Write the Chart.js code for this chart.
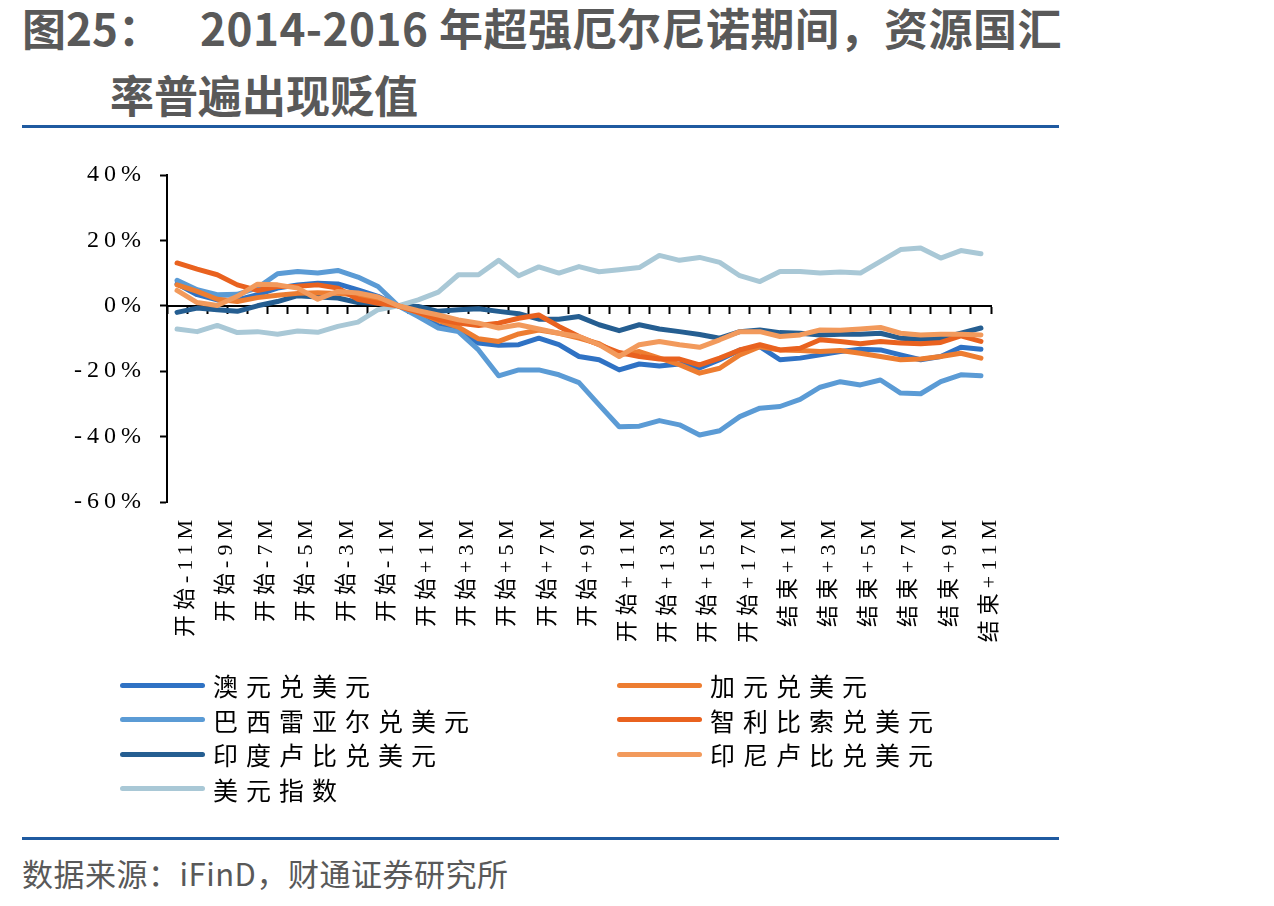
<!DOCTYPE html>
<html>
<head>
<meta charset="utf-8">
<script src="https://cdn.jsdelivr.net/npm/chart.js@4.4.0/dist/chart.umd.min.js"></script>
<style>
    body {
        margin: 0;
        width: 1274px;
        height: 906px;
        position: relative;
        overflow: hidden;
        background: #fff;
        font-family: "Noto Sans CJK SC", sans-serif;
    }
    .title {
        position: absolute;
        font-size: 44px;
        font-weight: 700;
        color: #595959;
        line-height: 1;
        white-space: nowrap;
    }
    .rule {
        position: absolute;
        left: 22px;
        width: 1037px;
        height: 3px;
        background: #1f5aa0;
    }
    #chartBox {
        position: absolute;
        left: 0;
        top: 140px;
        width: 1274px;
        height: 540px;
    }
    .item {
        position: absolute;
        height: 34px;
        display: flex;
        align-items: center;
        white-space: nowrap;
    }
    .swatch {
        width: 85px;
        height: 5px;
        border-radius: 3px;
        margin-right: 8px;
    }
    .item span {
        font-size: 25px;
        letter-spacing: 8px;
        color: #000;
    }
    .source {
        position: absolute;
        left: 22px;
        top: 857px;
        font-size: 31px;
        letter-spacing: 0.5px;
        color: #595959;
        line-height: 1;
        white-space: nowrap;
    }
</style>
</head>
<body>
<div class="title" style="left:22px; top:5px;">图25：</div>
<div class="title" style="left:200px; top:5px; letter-spacing:0.5px;">2014-2016 年超强厄尔尼诺期间，资源国汇</div>
<div class="title" style="left:110px; top:72px;">率普遍出现贬值</div>
<div class="rule" style="top:125px;"></div>

<div id="chartBox"><canvas id="fxChart"></canvas></div>
<div id="legend"></div>

<div class="rule" style="top:837px;"></div>
<div class="source">数据来源：iFinD，财通证券研究所</div>

<script>
// x categories (months relative to start / end of El Nino)
const categories = [
    "开始-11M", "开始-10M", "开始-9M", "开始-8M", "开始-7M", "开始-6M",
    "开始-5M", "开始-4M", "开始-3M", "开始-2M", "开始-1M", "开始",
    "开始+1M", "开始+2M", "开始+3M", "开始+4M", "开始+5M", "开始+6M",
    "开始+7M", "开始+8M", "开始+9M", "开始+10M", "开始+11M", "开始+12M",
    "开始+13M", "开始+14M", "开始+15M", "开始+16M", "开始+17M", "结束",
    "结束+1M", "结束+2M", "结束+3M", "结束+4M", "结束+5M", "结束+6M",
    "结束+7M", "结束+8M", "结束+9M", "结束+10M", "结束+11M"
];

// y ticks, in %
const yMin = -60;
const yMax = 40;
const yStep = 20;

// series, % change vs start
const audUsd = [6.7, 3.4, 1.8, 1.8, 3.4, 5.4, 6.4, 6.9, 6.7, 4.9, 2.9, 0,
    -1.7, -6.1, -7.6, -11.4, -12.1, -11.9, -9.9, -11.9, -15.5, -16.5, -19.6, -17.8,
    -18.4, -17.8, -19.0, -16.5, -13.5, -12.5, -16.5, -16.0, -15.0, -14.0, -13.3, -13.5,
    -15.0, -16.5, -15.5, -12.7, -13.3];
const brlUsd = [7.8, 4.9, 3.4, 3.5, 5.5, 9.8, 10.5, 10.0, 10.8, 8.8, 5.9, 0,
    -3.3, -6.8, -7.9, -13.5, -21.4, -19.6, -19.6, -21.1, -23.5, -30.3, -37.0, -36.8,
    -35.1, -36.4, -39.5, -38.2, -33.9, -31.3, -30.8, -28.6, -24.9, -23.2, -24.2, -22.7,
    -26.7, -26.9, -23.2, -21.1, -21.4];
const inrUsd = [-2.0, -0.7, -1.2, -1.7, 0, 1.3, 3.1, 2.7, 2.4, 1.0, 0.8, 0,
    -0.2, -1.7, -1.2, -0.9, -1.7, -2.4, -4.1, -4.1, -3.3, -5.8, -7.6, -5.8,
    -7.1, -7.9, -8.8, -9.9, -7.9, -7.4, -8.2, -8.4, -8.9, -8.7, -8.7, -8.4,
    -9.9, -10.2, -9.9, -8.4, -6.8];
const dollarIndex = [-7.1, -7.9, -6.0, -8.2, -7.9, -8.7, -7.7, -8.1, -6.3, -5.0, -1.2, 0,
    1.8, 4.2, 9.5, 9.5, 13.9, 9.2, 11.9, 10.0, 12.0, 10.4, 11.0, 11.7,
    15.4, 13.9, 14.8, 13.3, 9.2, 7.4, 10.5, 10.5, 10.0, 10.3, 10.0, 13.6,
    17.2, 17.7, 14.6, 16.9, 15.9];
const cadUsd = [6.4, 4.4, 2.0, 1.3, 2.5, 3.2, 3.8, 4.0, 3.8, 3.2, 2.0, 0,
    -2.0, -4.5, -6.5, -10.1, -10.9, -8.6, -7.4, -8.4, -9.9, -11.6, -15.0, -14.0,
    -16.0, -18.0, -20.6, -19.1, -15.0, -12.5, -13.5, -13.7, -14.0, -13.7, -14.5, -15.5,
    -16.5, -16.3, -15.5, -14.5, -16.0];
const clpUsd = [13.1, 11.2, 9.5, 6.4, 4.7, 5.9, 6.0, 6.4, 5.4, 2.0, 0.8, 0,
    -2.0, -4.1, -5.3, -6.0, -5.3, -3.8, -2.8, -6.3, -9.4, -11.9, -14.3, -15.5,
    -16.3, -16.3, -18.1, -16.0, -13.5, -11.9, -13.5, -13.0, -10.4, -10.9, -11.6, -10.9,
    -11.4, -11.6, -11.2, -9.2, -10.9];
const idrUsd = [4.7, 1.0, 0.1, 2.9, 6.6, 6.4, 5.4, 2.0, 4.4, 3.9, 2.7, 0,
    -1.5, -2.8, -4.3, -5.3, -6.8, -5.8, -7.1, -8.4, -9.4, -11.9, -15.5, -11.9,
    -10.9, -11.9, -12.7, -10.4, -7.9, -7.9, -9.4, -8.9, -7.4, -7.5, -7.1, -6.6,
    -8.4, -8.9, -8.7, -8.7, -8.9];

const seriesNames = ["澳元兑美元", "巴西雷亚尔兑美元", "印度卢比兑美元", "美元指数",
    "加元兑美元", "智利比索兑美元", "印尼卢比兑美元"];
const seriesData = [audUsd, brlUsd, inrUsd, dollarIndex, cadUsd, clpUsd, idrUsd];
const seriesColors = ["#2f72c4", "#5b9bd5", "#255e91", "#a9c8d6",
    "#ed7d31", "#e9621f", "#f29a5c"];

// canvas letter spacing, like the original axis text
const spacingPlugin = {
    id: "spacing",
    beforeDraw: function (chart) {
        chart.ctx.letterSpacing = "5px";
    }
};

const ctx = document.getElementById("fxChart");
var fxChart = new Chart(ctx, {
    type: "line",
    data: {
        labels: categories,
        datasets: seriesNames.map(function (name, i) {
            return {
                label: name,
                data: seriesData[i],
                borderColor: seriesColors[i],
                backgroundColor: seriesColors[i],
                borderWidth: 5,
                pointRadius: 0,
                tension: 0,
                borderJoinStyle: "round",
                borderCapStyle: "round",
                order: seriesNames.length - i
            };
        })
    },
    options: {
        responsive: true,
        maintainAspectRatio: false,
        animation: false,
        layout: {
            padding: { top: 35, right: 283, left: 0, bottom: 0 }
        },
        plugins: {
            legend: { display: false },
            tooltip: { enabled: false }
        },
        scales: {
            x: {
                type: "category",
                offset: true,
                border: { display: false },
                grid: { display: false, drawTicks: false, offset: true },
                ticks: {
                    autoSkip: false,
                    minRotation: 90,
                    maxRotation: 90,
                    padding: 13,
                    labelOffset: 9,
                    color: "#000",
                    font: { family: "'Liberation Serif', 'Noto Sans CJK SC'", size: 22 },
                    callback: function (value, index) {
                        return index % 2 === 0 ? categories[index] : "";
                    }
                },
                afterFit: function (scale) {
                    scale.height = 178;
                }
            },
            x0: {
                type: "category",
                position: { y: 0 },
                offset: true,
                border: { display: true, color: "#000", width: 2 },
                grid: {
                    offset: true,
                    drawOnChartArea: false,
                    drawTicks: true,
                    tickLength: 7,
                    tickWidth: 2,
                    tickColor: "#000"
                },
                ticks: { display: false, autoSkip: false }
            },
            y: {
                min: yMin,
                max: yMax,
                border: { display: true, color: "#000", width: 2 },
                grid: {
                    drawOnChartArea: false,
                    tickLength: 7,
                    tickWidth: 2,
                    tickColor: "#000"
                },
                ticks: {
                    stepSize: yStep,
                    padding: 14,
                    color: "#000",
                    font: { family: "'Liberation Serif'", size: 24 },
                    callback: function (value) {
                        return value + "%";
                    }
                },
                afterFit: function (scale) {
                    scale.width = 167;
                }
            }
        }
    },
    plugins: [spacingPlugin]
});

// legend in two columns, built from the chart's datasets
const legendBox = document.getElementById("legend");
fxChart.data.datasets.forEach(function (ds, i) {
    const col = i < 4 ? 0 : 1;
    const row = i < 4 ? i : i - 4;
    const item = document.createElement("div");
    item.className = "item";
    item.style.left = (col === 0 ? 120 : 617) + "px";
    item.style.top = (668 + row * 34.5) + "px";
    const swatch = document.createElement("div");
    swatch.className = "swatch";
    swatch.style.background = ds.borderColor;
    const text = document.createElement("span");
    text.textContent = ds.label;
    item.appendChild(swatch);
    item.appendChild(text);
    legendBox.appendChild(item);
});
</script>
</body>
</html>
